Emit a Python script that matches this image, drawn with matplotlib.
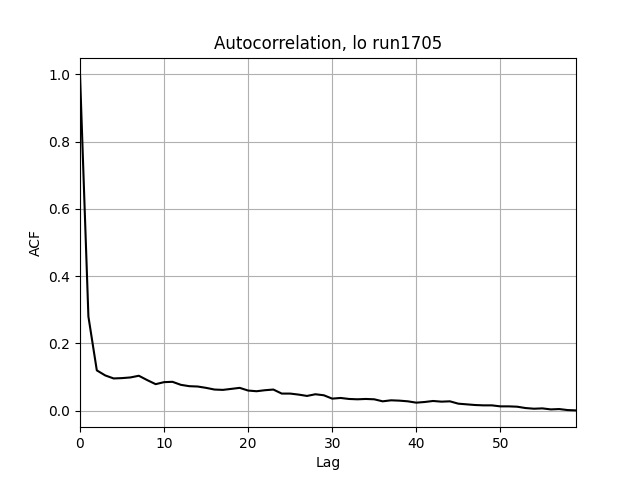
import numpy as np
import matplotlib
matplotlib.use("Agg")
import matplotlib.pyplot as plt

lags = np.arange(60)
acf = [1.0, 0.28, 0.12, 0.105, 0.096, 0.097, 0.099, 0.104, 0.091, 0.079,
       0.085, 0.086, 0.077, 0.073, 0.072, 0.068, 0.063, 0.062, 0.065, 0.068,
       0.060, 0.058, 0.061, 0.063, 0.051, 0.051, 0.048, 0.044, 0.049, 0.046,
       0.036, 0.038, 0.035, 0.034, 0.035, 0.034, 0.028, 0.031, 0.030, 0.028,
       0.024, 0.026, 0.029, 0.027, 0.028, 0.021, 0.019, 0.017, 0.016, 0.016,
       0.013, 0.013, 0.012, 0.008, 0.006, 0.007, 0.004, 0.005, 0.002, 0.001]

fig, ax = plt.subplots(figsize=(6.4, 4.8), dpi=100)
ax.plot(lags, acf, color='black')
ax.set_xlim(0, 59)
ax.set_title("Autocorrelation, lo run1705")
ax.set_xlabel("Lag")
ax.set_ylabel("ACF")
ax.grid(True)
fig.savefig("out.png")
